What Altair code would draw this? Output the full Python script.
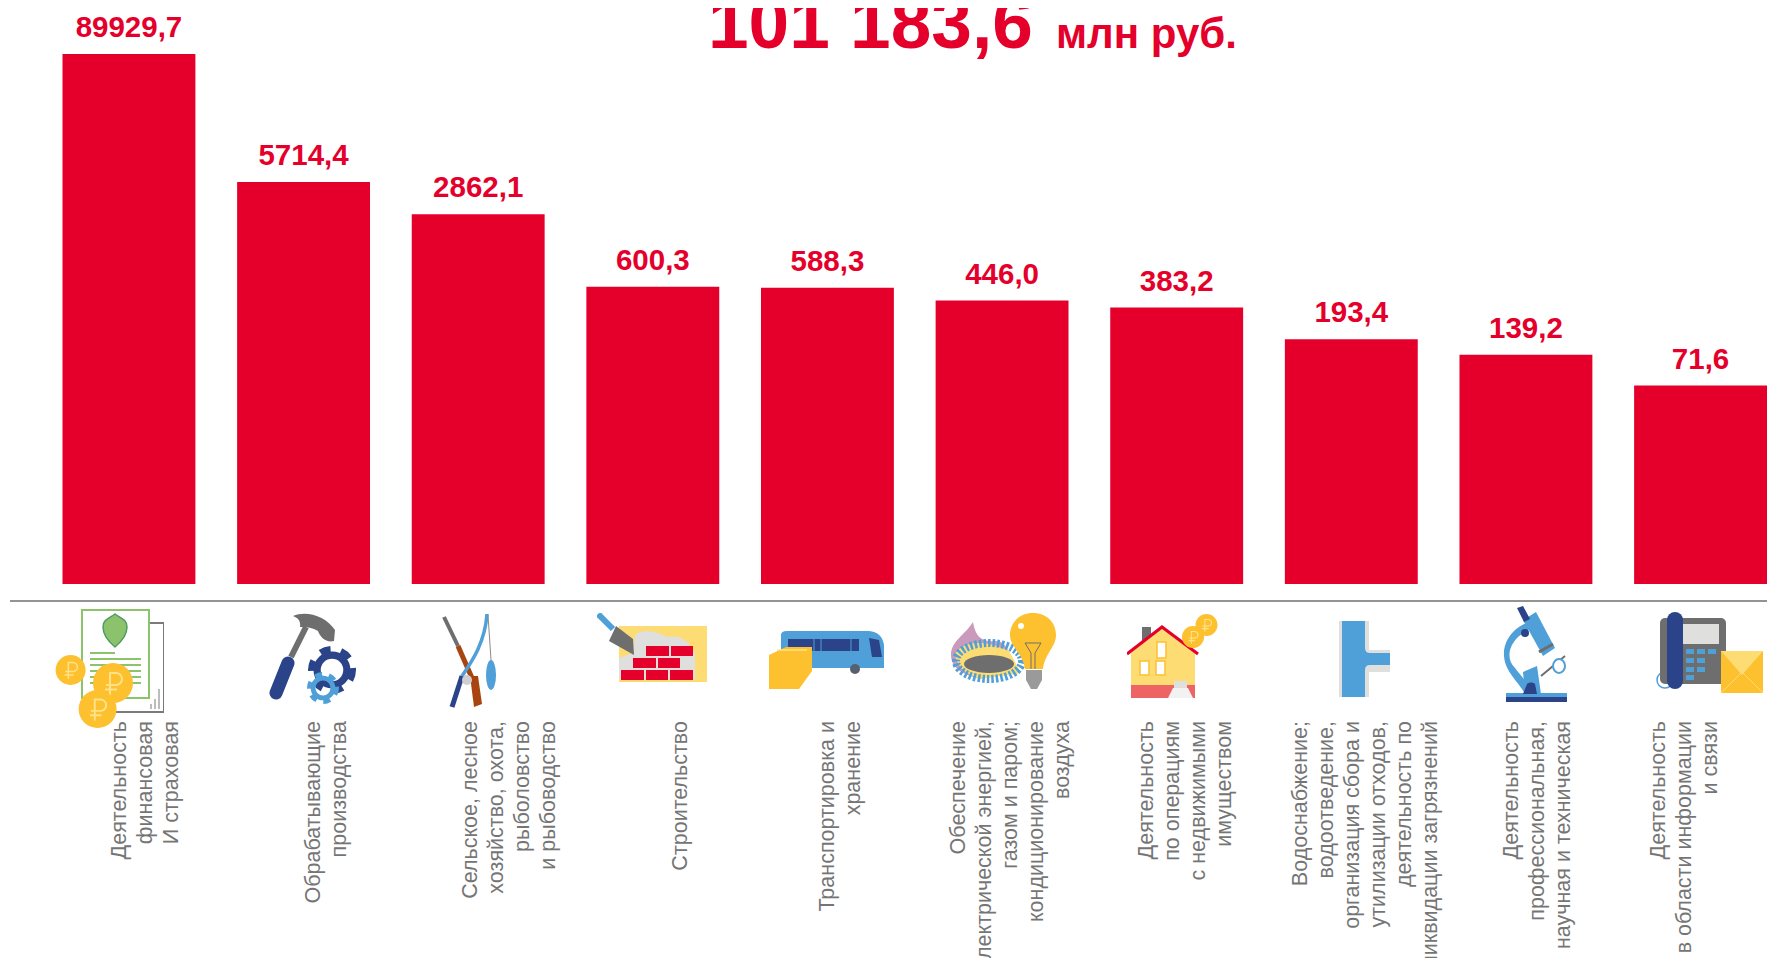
import base64
import altair as alt
import pandas as pd

categories = ["fin", "man", "agr", "con", "tra", "ene", "rea", "wat", "sci", "inf"]
values = [89929.7, 5714.4, 2862.1, 600.3, 588.3, 446.0, 383.2, 193.4, 139.2, 71.6]
value_labels = ["89929,7", "5714,4", "2862,1", "600,3", "588,3", "446,0", "383,2", "193,4", "139,2", "71,6"]
label_lines = [
    ["Деятельность", "финансовая", "И страховая"],
    ["Обрабатывающие", "производства"],
    ["Сельское, лесное", "хозяйство, охота,", "рыболовство", "и  рыбоводство"],
    ["Строительство"],
    ["Транспортировка и", "хранение"],
    ["Обеспечение", "электрической энергией,", "газом и паром;", "кондиционирование", "воздуха"],
    ["Деятельность", "по операциям", "с недвижимыми", "имуществом"],
    ["Водоснабжение;", "водоотведение,", "организация сбора и", "утилизации отходов,", "деятельность по", "ликвидации загрязнений"],
    ["Деятельность", "профессиональная,", "научная и техническая"],
    ["Деятельность", "в области информации", "и связи"],
]
first_line_shift = [57, 77.3, 59.6, 94.9, 67.2, 23.5, 36.8, 16.1, 52.5, 24.7]
title_main = "101 183,6"
title_unit = "млн руб."

RED = "#E4002B"
GREY = "#757575"


def coin(cx, cy, r):
    return (f'<circle cx="{cx}" cy="{cy}" r="{r}" fill="#FDC02F"/>'
            f'<path d="M{cx-r*.15} {cy+r*.6}V{cy-r*.5}h{r*.3}a{r*.27} {r*.27} 0 0 1 0 {r*.6}h-{r*.5}M{cx-r*.4} {cy+r*.33}h{r*.6}" '
            f'fill="none" stroke="#FFE28A" stroke-width="{r*.1}"/>')


def gear(cx, cy, r, col):
    tooth = r * 0.42
    return (f'<circle cx="{cx}" cy="{cy}" r="{r*.82}" fill="none" stroke="{col}" stroke-width="{r*.36}" '
            f'stroke-dasharray="{tooth} {tooth}"/>'
            f'<circle cx="{cx}" cy="{cy}" r="{r*.62}" fill="none" stroke="{col}" stroke-width="{r*.3}"/>')


icons = [
    # finance
    (109, 119, 0,
     '<path d="M90 14H109V103H40" fill="none" stroke="#7a7a7a" stroke-width="2"/>'
     '<path d="M96 95V100M100 90V100M104 80V100" stroke="#7a7a7a" stroke-width="1" fill="none"/>'
     '<rect x="27" y="1" width="67" height="88" fill="#fff" stroke="#8CC46C" stroke-width="2"/>'
     '<path d="M60 5C65 9 72 10 72 18C72 27 66 33 60 38C54 33 48 27 48 18C48 10 55 9 60 5Z" fill="#8BC26B" stroke="#4E9C63" stroke-width="1.5"/>'
     '<path d="M35 44H60M35 50H86M35 56H86M35 62H86M35 68H86M35 74H86" stroke="#8CC46C" stroke-width="2" fill="none"/>'
     + coin(15.6, 61, 15) + coin(58, 74, 20) + coin(42.6, 100, 19)),
    # manufacturing
    (89, 92, 0,
     '<path d="M8 80L20 50" stroke="#2A4389" stroke-width="13" stroke-linecap="round"/>'
     '<path d="M23 44L38 14" stroke="#6E6E6E" stroke-width="6"/>'
     '<path d="M25 3C38 -3 58 3 67 17L66 28C58 30 52 24 50 18C44 14 36 14 32 14C33 8 30 5 25 3Z" fill="#6E6E6E"/>'
     + gear(64, 57, 24, "#2A4389") + gear(55, 75, 16, "#4F9FD8")),
    # agriculture
    (55, 94, 0,
     '<path d="M2 3L16 32" stroke="#6E6E6E" stroke-width="4"/>'
     '<path d="M16 32L30 64" stroke="#A8440F" stroke-width="5"/>'
     '<path d="M28 62L36 62L40 90L32 93Z" fill="#A8440F"/>'
     '<path d="M45 0C43 30 28 50 20 62" stroke="#4F9FD8" stroke-width="3.5" fill="none"/>'
     '<path d="M20 62L10 93" stroke="#2A4389" stroke-width="5"/>'
     '<path d="M46 1L49 46" stroke="#8a8a8a" stroke-width="1"/>'
     '<ellipse cx="49" cy="61" rx="5" ry="15" fill="#4F9FD8"/>'
     '<circle cx="25" cy="66" r="5" fill="#cfcfcf"/>'),
    # construction
    (110, 69, 0,
     '<rect x="22" y="13" width="88" height="56" fill="#FDDC74"/>'
     '<path d="M22 45L36 40L38 22C48 14 62 20 70 24C84 22 92 28 98 40V66H22Z" fill="#DFDFDD"/>'
     '<path d="M49 33h23v10h-23zM74 33h22v10h-22zM36 45h23v10h-23zM61 45h22v10h-22zM24 57h23v10h-23zM49 57h22v10h-22zM73 57h23v10h-23z" fill="#E4002B"/>'
     '<path d="M1 1L16 16" stroke="#4F9FD8" stroke-width="6"/>'
     '<path d="M19 13L36 26L37 42L12 28Z" fill="#6E6E6E"/>'),
    # transport
    (115, 58, 0,
     '<path d="M12 4Q12 0 18 0H100Q113 1 115 14V37H12Z" fill="#4F9FD8"/>'
     '<path d="M19 8H90V20H19Z" fill="#2A4389"/>'
     '<path d="M100 7L110 9L113 26H103Z" fill="#2A4389"/>'
     '<path d="M45 8V20M52 8V20M82 8V20" stroke="#4F9FD8" stroke-width="1"/>'
     '<circle cx="86" cy="38" r="5" fill="#56606E"/>'
     '<path d="M0 24L17 16H43V40L30 58H0Z" fill="#FDC02F"/>'
     '<path d="M8 19H38" stroke="#FFE28A" stroke-width="1.5"/>'),
    # energy
    (105, 76, 0,
     '<path d="M0 42C0 28 14 22 22 9C24 20 28 30 45 28C55 28 60 40 60 55L30 66C12 62 0 55 0 42Z" fill="#C99ABB"/>'
     '<path d="M4 42C8 30 30 24 58 38L70 60L30 66C14 62 6 52 4 42Z" fill="#FDDC74"/>'
     '<ellipse cx="38" cy="48" rx="33" ry="18" fill="none" stroke="#4F9FD8" stroke-width="8" stroke-dasharray="2.5 2"/>'
     '<ellipse cx="38" cy="51" rx="25" ry="9" fill="#6E6E6E"/>'
     '<path d="M82 0C96 0 105 10 105 22C105 34 94 40 92 56H74C72 40 59 34 59 22C59 10 68 0 82 0Z" fill="#FDC02F"/>'
     '<circle cx="70" cy="13" r="3" fill="#fff"/>'
     '<path d="M74 30L90 30L84 40L84 56M74 30L80 40L80 56" stroke="#6E6E6E" stroke-width="1" fill="none"/>'
     '<path d="M75 57H91V67L86 76H80L75 67Z" fill="#9A9A9A"/>'),
    # real estate
    (91, 94, 0,
     '<rect x="15" y="23" width="9" height="20" fill="#6E6E6E"/>'
     '<path d="M4 49L35 23L68 49V94H4Z" fill="#FDDC74"/>'
     '<rect x="4" y="81" width="64" height="13" fill="#EE6363"/>'
     '<path d="M0 50L35 23L71 50" fill="none" stroke="#E4002B" stroke-width="3"/>'
     '<path d="M47 77H60V94H47Z" fill="#DFDFDD"/>'
     '<path d="M41 94L46 84H61L66 94Z" fill="#F2F2F2"/>'
     '<path d="M30 38h9v16h-9zM13 57h9v14h-9zM29 57h9v14h-9z" fill="#fff" stroke="#FDC02F" stroke-width="1.5"/>'
     + coin(79.5, 21, 11) + coin(66, 33, 11)),
    # water
    (53, 76, 0,
     '<rect x="2" y="0" width="30" height="76" fill="#DFDFDD"/>'
     '<rect x="28" y="29" width="25" height="22" fill="#DFDFDD"/>'
     '<path d="M5 0H28V27Q28 32 33 32H53V44H33Q28 44 28 49V76H5Z" fill="#4F9FD8"/>'),
    # science
    (64, 96, 0,
     '<rect x="3" y="87" width="61" height="9" fill="#2A4389"/>'
     '<rect x="3" y="87" width="61" height="4" fill="#4F9FD8"/>'
     '<path d="M30 22C8 30 0 50 12 62C18 70 26 78 30 88H22C16 76 2 66 1 50C0 34 12 20 27 16Z" fill="#4F9FD8"/>'
     '<path d="M20 66L34 60L38 88H22Z" fill="#4F9FD8"/>'
     '<path d="M24 78C26 76 30 76 32 78L34 88H20Z" fill="#2A4389"/>'
     '<path d="M20 14L33 6L52 42L40 50Z" fill="#4F9FD8"/>'
     '<path d="M14 2L20 0L27 13L21 16Z" fill="#2A4389"/>'
     '<circle cx="22" cy="27" r="4" fill="#2A4389"/>'
     '<path d="M36 46L50 38" stroke="#6E6E6E" stroke-width="3"/>'
     '<path d="M38 70L62 50" stroke="#6E6E6E" stroke-width="2"/>'
     '<ellipse cx="56" cy="60" rx="6" ry="7" fill="#fff" stroke="#4F9FD8" stroke-width="2"/>'),
    # information
    (108, 81, 0,
     '<circle cx="10" cy="68" r="8" fill="#fff" stroke="#4F9FD8" stroke-width="1.5"/>'
     '<rect x="5" y="6" width="66" height="66" rx="5" fill="#6E6E6E"/>'
     '<rect x="28" y="12" width="36" height="20" fill="#DFDFDD"/>'
     '<path d="M31 37h8v5h-8zM42 37h8v5h-8zM53 37h8v5h-8zM31 46h8v5h-8zM42 46h8v5h-8zM31 55h8v5h-8zM42 55h8v5h-8zM31 63h8v5h-8z" fill="#4F9FD8"/>'
     '<rect x="12" y="0" width="16" height="77" rx="8" fill="#2A4389"/>'
     '<rect x="66" y="39" width="42" height="42" fill="#FDC02F"/>'
     '<path d="M66 39H108L87 63Z" fill="#FDDC74"/>'
     '<path d="M66 81L87 60L108 81" stroke="#FDDC74" stroke-width="1" fill="none"/>'),
]
icon_left = [55, 268, 442, 597, 769, 951, 1127, 1337, 1503, 1655]
icon_top = [609, 613, 614, 613, 631, 613, 604, 621, 606, 612]

BASE_Y = 576
PX_PER_DECADE = 107
x_scale = alt.Scale(domain=categories, range=[54.5, 1759], paddingInner=0.239, paddingOuter=0)
y_scale = alt.Scale(type="log", domain=[1, 10 ** (BASE_Y / PX_PER_DECADE)], range=[BASE_Y, 0])
x_enc = alt.X("cat:N", scale=x_scale, axis=None, sort=categories)

bars_df = pd.DataFrame({"cat": categories, "value": values, "label": value_labels, "base": [1] * len(values)})
bars = alt.Chart(bars_df).mark_bar(color=RED).encode(
    x=x_enc, y=alt.Y("value:Q", scale=y_scale, axis=None), y2="base:Q"
)
bar_labels = alt.Chart(bars_df).mark_text(
    color=RED, font="Liberation Sans", fontWeight="bold", fontSize=29.5, baseline="alphabetic", dy=-17
).encode(x=x_enc, y=alt.Y("value:Q", scale=y_scale, axis=None), text="label:N")

rows = []
for c, lines, shift in zip(categories, label_lines, first_line_shift):
    for i, line in enumerate(lines):
        rows.append({"cat": c, "line": line, "off": shift + i * 26.0})
text_df = pd.DataFrame(rows)
cat_text = alt.Chart(text_df).mark_text(
    color=GREY, font="Liberation Sans", fontSize=21.5, angle=270, align="right", baseline="middle"
).encode(x=x_enc, xOffset=alt.XOffset("off:Q", scale=None), y=alt.value(713), text="line:N")

rule = alt.Chart(pd.DataFrame({"a": [0]})).mark_rule(color="#6f6f6f", strokeWidth=1.5).encode(
    x=alt.value(2), x2=alt.value(1759), y=alt.value(593)
)
title_a = alt.Chart(pd.DataFrame({"t": [title_main]})).mark_text(
    color=RED, font="Liberation Sans", fontWeight="bold", fontSize=73, align="left", baseline="alphabetic"
).encode(x=alt.value(700), y=alt.value(39.5), text="t:N")
title_b = alt.Chart(pd.DataFrame({"t": [title_unit]})).mark_text(
    color=RED, font="Liberation Sans", fontWeight="bold", fontSize=42, align="left", baseline="alphabetic"
).encode(x=alt.value(1048), y=alt.value(39.5), text="t:N")

icon_layers = []
for (w, h, _x, body), left, top in zip(icons, icon_left, icon_top):
    svg = f'<svg xmlns="http://www.w3.org/2000/svg" width="{w}" height="{h}" viewBox="0 0 {w} {h}">{body}</svg>'
    uri = "data:image/svg+xml;base64," + base64.b64encode(svg.encode()).decode()
    icon_layers.append(
        alt.Chart(pd.DataFrame({"u": [uri]})).mark_image(width=w, height=h, aspect=False, align="left", baseline="top").encode(
            x=alt.value(left - 8), y=alt.value(top - 8), url="u:N"
        )
    )

chart = alt.layer(bars, bar_labels, rule, *icon_layers, cat_text, title_a, title_b).properties(
    width=1759, height=950, padding=0, autosize=alt.AutoSizeParams(type="none"), background="white"
).configure_view(stroke=None)

chart.save("out.html", embed_options={"renderer": "svg", "actions": False})
